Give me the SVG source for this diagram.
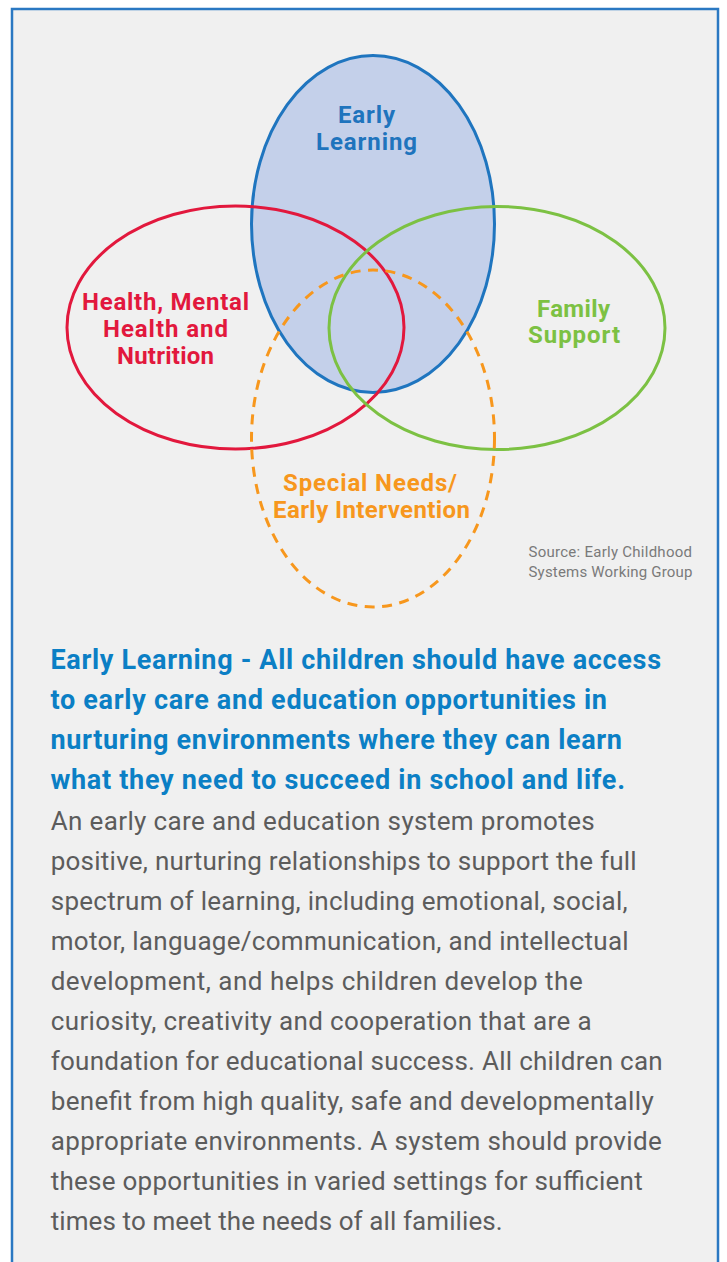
<svg xmlns="http://www.w3.org/2000/svg" width="727" height="1262" viewBox="0 0 727 1262">
<style>
.lbl{font-family:Roboto,"Liberation Sans",Arial,sans-serif;font-weight:700;font-size:24px;text-anchor:middle}
.hd{font-family:Roboto,"Liberation Sans",Arial,sans-serif;font-weight:700;font-size:27px;fill:#0b7fc5}
.bd{font-family:Roboto,"Liberation Sans",Arial,sans-serif;font-weight:400;font-size:26px;fill:#5c5c5c}
.src{font-family:Roboto,"Liberation Sans",Arial,sans-serif;font-size:15px;fill:#7a7a7a}
.ring{fill:none;stroke-width:3}
</style>
<rect x="0" y="0" width="727" height="1262" fill="#ffffff"/>
<rect id="frame" x="12" y="9" width="706" height="1280" fill="#f0f0f0" stroke="#2a78c2" stroke-width="2.5"/>
<g id="early-learning">
<ellipse cx="373" cy="224" rx="121.5" ry="168.5" fill="#c4d0ea" stroke="#1f75bf" stroke-width="3"/>
</g>
<g id="health">
<ellipse class="ring" cx="235.5" cy="327.5" rx="168.5" ry="121.5" stroke="#e2183d"/>
</g>
<g id="family-support">
<ellipse class="ring" cx="497" cy="328" rx="168" ry="121.5" stroke="#7cc143"/>
</g>
<g id="special-needs">
<ellipse class="ring" cx="373" cy="438.5" rx="121.5" ry="168.5" stroke="#f7971d" stroke-dasharray="10 7.5"/>
</g>
<g id="labels">
<text class="lbl" fill="#1f74bd" x="366.5" y="123" textLength="57">Early</text>
<text class="lbl" fill="#1f74bd" x="366.5" y="150" textLength="101">Learning</text>
<text class="lbl" fill="#e2183d" x="165.5" y="310" textLength="167">Health, Mental</text>
<text class="lbl" fill="#e2183d" x="165.5" y="337" textLength="125">Health and</text>
<text class="lbl" fill="#e2183d" x="165.5" y="364" textLength="97">Nutrition</text>
<text class="lbl" fill="#7cc143" x="573.5" y="317" textLength="73">Family</text>
<text class="lbl" fill="#7cc143" x="574" y="343" textLength="92">Support</text>
<text class="lbl" fill="#f7971d" x="370" y="491" textLength="174">Special Needs/</text>
<text class="lbl" fill="#f7971d" x="371.5" y="518" textLength="197">Early Intervention</text>
</g>
<g id="source">
<text class="src" x="528.5" y="557" textLength="163.5">Source: Early Childhood</text>
<text class="src" x="528.5" y="577" textLength="164">Systems Working Group</text>
</g>
<g id="heading">
<text class="hd" x="50.5" y="669" textLength="610.5">Early Learning - All children should have access</text>
<text class="hd" x="50.5" y="709" textLength="556.5">to early care and education opportunities in</text>
<text class="hd" x="50.5" y="749" textLength="571.5">nurturing environments where they can learn</text>
<text class="hd" x="50.5" y="789" textLength="574.5">what they need to succeed in school and life.</text>
</g>
<g id="body">
<text class="bd" x="50.7" y="830" textLength="544">An early care and education system promotes</text>
<text class="bd" x="50.7" y="870" textLength="586">positive, nurturing relationships to support the full</text>
<text class="bd" x="50.7" y="910" textLength="577">spectrum of learning, including emotional, social,</text>
<text class="bd" x="50.7" y="950" textLength="578">motor, language/communication, and intellectual</text>
<text class="bd" x="50.7" y="990" textLength="532">development, and helps children develop the</text>
<text class="bd" x="50.7" y="1030" textLength="541">curiosity, creativity and cooperation that are a</text>
<text class="bd" x="50.7" y="1070" textLength="612">foundation for educational success. All children can</text>
<text class="bd" x="50.7" y="1110" textLength="603">benefit from high quality, safe and developmentally</text>
<text class="bd" x="50.7" y="1150" textLength="611">appropriate environments. A system should provide</text>
<text class="bd" x="50.7" y="1190" textLength="592">these opportunities in varied settings for sufficient</text>
<text class="bd" x="50.7" y="1230" textLength="452">times to meet the needs of all families.</text>
</g>
</svg>
